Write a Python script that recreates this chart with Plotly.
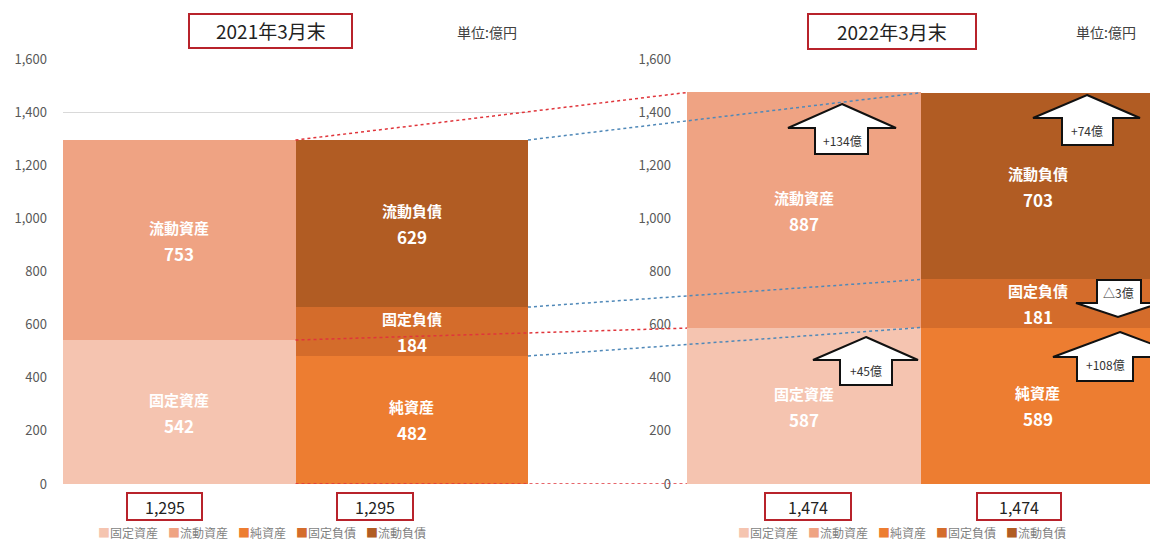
import plotly.graph_objects as go

W, H = 1150, 543
FONT = "Noto Sans CJK JP"

# ---------------- data ----------------
categories = ["固定資産", "流動資産", "純資産", "固定負債", "流動負債"]
bar_side = [0, 0, 1, 1, 1]          # 0: 資産, 1: 負債・純資産
values_2021 = [542, 753, 482, 184, 629]
values_2022 = [587, 887, 589, 181, 703]
totals_2021 = [1295, 1295]
totals_2022 = [1474, 1474]
period_titles = ["2021年3月末", "2022年3月末"]
unit_label = "単位:億円"
y_ticks = [0, 200, 400, 600, 800, 1000, 1200, 1400, 1600]
change_labels = ["+134億", "+74億", "+45億", "△3億", "+108億"]

colors = ["#F5C4B0", "#EFA383", "#ED7D31", "#D46C2B", "#B15C23"]

# ---------------- layout geometry ----------------
def px(x):
    return x / W

def py(y):
    return 1 - y / H

X1_DOM = [px(63), px(528)]
X2_DOM = [px(687), 1.0]
X1_RANGE = [-0.5, 1.5]
X2_RANGE = [-0.5, 1.48]
Y_DOM = [py(484), py(59)]
Y_RANGE = [0, 1600]


def xpaper(dom, rng, v):
    return dom[0] + (v - rng[0]) / (rng[1] - rng[0]) * (dom[1] - dom[0])


fig = go.Figure()

panels = [("x", "y", values_2021), ("x2", "y2", values_2022)]
for xa, ya, vals in panels:
    for name, s, v, c in zip(categories, bar_side, vals, colors):
        fig.add_trace(go.Bar(
            x=[s], y=[v], name=name, xaxis=xa, yaxis=ya,
            marker=dict(color=c, line=dict(width=0)), width=1,
            hoverinfo="skip", showlegend=False,
        ))

annotations = []
shapes = []


def ann(x, y, text, size, color, xref="paper", yref="paper", yshift=0,
        xanchor="center", yanchor="middle"):
    return dict(x=x, y=y, xref=xref, yref=yref, text=text, showarrow=False,
                xanchor=xanchor, yanchor=yanchor, yshift=yshift, borderpad=0,
                font=dict(family=FONT, size=size, color=color))


# segment labels
for xa, ya, vals in panels:
    cum = {0: 0, 1: 0}
    for name, s, v in zip(categories, bar_side, vals):
        mid = cum[s] + v / 2
        cum[s] += v
        annotations.append(ann(s, mid, f"<b>{name}</b>", 15, "white", xa, ya, 13))
        annotations.append(ann(s, mid, f"<b>{v:,}</b>", 17, "white", xa, ya, -13))

# connector lines (cumulative levels)
def cumlevels(vals, side):
    lv = [0]
    for s, v in zip(bar_side, vals):
        if s == side:
            lv.append(lv[-1] + v)
    return lv

a21, a22 = cumlevels(values_2021, 0), cumlevels(values_2022, 0)
l21, l22 = cumlevels(values_2021, 1), cumlevels(values_2022, 1)

for y0, y1 in zip(a21, a22):
    shapes.append(dict(type="line", xref="paper", yref="y",
                       x0=xpaper(X1_DOM, X1_RANGE, 0.5), y0=y0,
                       x1=xpaper(X2_DOM, X2_RANGE, -0.5), y1=y1,
                       line=dict(color="#E0353B", width=1.5, dash="dot"), layer="above"))
for y0, y1 in zip(l21[1:], l22[1:]):
    shapes.append(dict(type="line", xref="paper", yref="y",
                       x0=xpaper(X1_DOM, X1_RANGE, 1.5), y0=y0,
                       x1=xpaper(X2_DOM, X2_RANGE, 0.5), y1=y1,
                       line=dict(color="#4F88B8", width=1.5, dash="dot"), layer="above"))

# block arrows (decorations, in pixel geometry)
def up_arrow(tip, hb, hl, hr, sl, sr, bottom):
    tx, ty = tip
    pts = [(tx, ty), (hr, hb), (sr, hb), (sr, bottom), (sl, bottom), (sl, hb), (hl, hb)]
    return "M" + " L".join(f"{px(a):.5f},{py(b):.5f}" for a, b in pts) + " Z"

def down_arrow(top, sl, sr, hb, hl, hr, tip):
    tx, ty = tip
    pts = [(sl, top), (sr, top), (sr, hb), (hr, hb), (tx, ty), (hl, hb), (sl, hb)]
    return "M" + " L".join(f"{px(a):.5f},{py(b):.5f}" for a, b in pts) + " Z"

arrow_paths = [
    up_arrow((842, 104), 128, 788, 896, 815, 868, 154),
    up_arrow((1087, 95), 118, 1033, 1140, 1062, 1113, 145),
    up_arrow((866, 337), 360, 813, 918, 840, 892, 385),
    down_arrow(280, 1097, 1141, 303, 1076, 1160, (1118, 317)),
    up_arrow((1120, 332), 357, 1053, 1187, 1077, 1133, 381),
]
arrow_text_pos = [(842, 140), (1087, 130), (866, 370), (1118, 292), (1105, 364)]
for path in arrow_paths:
    shapes.append(dict(type="path", path=path, xref="paper", yref="paper",
                       fillcolor="white", line=dict(color="#111111", width=2), layer="above"))
for (tx, ty), t in zip(arrow_text_pos, change_labels):
    annotations.append(ann(px(tx), py(ty), t, 12, "#333333"))

# title boxes & unit labels
title_boxes = [(189, 14, 352, 48), (808, 14, 976, 49)]
unit_x = [487, 1106]
for (x0, y0, x1, y1), t, ux in zip(title_boxes, period_titles, unit_x):
    shapes.append(dict(type="rect", xref="paper", yref="paper",
                       x0=px(x0), y0=py(y0), x1=px(x1), y1=py(y1),
                       fillcolor="white", line=dict(color="#B8232B", width=2), layer="above"))
    annotations.append(ann(px((x0 + x1) / 2), py((y0 + y1) / 2), t, 19, "#222222"))
    annotations.append(ann(px(ux), py(32), unit_label, 14, "#404040"))

# total boxes
total_boxes = [[(127, 202), (337, 413)], [(765, 851), (977, 1061)]]
for boxes, tots in zip(total_boxes, [totals_2021, totals_2022]):
    for (x0, x1), tv in zip(boxes, tots):
        shapes.append(dict(type="rect", xref="paper", yref="paper",
                           x0=px(x0), y0=py(493), x1=px(x1), y1=py(520),
                           fillcolor="white", line=dict(color="#B8232B", width=2), layer="above"))
        annotations.append(ann(px((x0 + x1) / 2), py(506.5), f"{tv:,}", 16, "#222222"))

# legends (one row per panel)
LEG_FONT = 12
LEG_GAP = 10
legend_starts = [97, 737]
for start in legend_starts:
    xcur = start
    for name, c in zip(categories, colors):
        txt = f"<span style='color:{c}'>■</span>{name}"
        annotations.append(ann(px(xcur), py(542), txt, LEG_FONT, "#7F7F7F",
                               xanchor="left", yanchor="bottom"))
        xcur += LEG_FONT * (len(name) + 1) + LEG_GAP

yaxis_common = dict(range=Y_RANGE, domain=Y_DOM, tickvals=y_ticks, tickformat=",",
                    showgrid=True, gridcolor="#D9D9D9", gridwidth=1, zeroline=False,
                    showline=False, ticks="", ticklabelstandoff=15,
                    tickfont=dict(family=FONT, size=13, color="#595959"))
xaxis_common = dict(showticklabels=False, showgrid=False, zeroline=False, showline=False,
                    ticks="")

fig.update_layout(
    width=W, height=H,
    margin=dict(l=0, r=0, t=0, b=0, pad=0, autoexpand=False),
    paper_bgcolor="white", plot_bgcolor="white",
    barmode="stack", bargap=0, showlegend=False,
    xaxis=dict(domain=X1_DOM, range=X1_RANGE, anchor="y", **xaxis_common),
    xaxis2=dict(domain=X2_DOM, range=X2_RANGE, anchor="y2", **xaxis_common),
    yaxis=dict(anchor="x", **yaxis_common),
    yaxis2=dict(anchor="x2", **yaxis_common),
    shapes=shapes,
    annotations=annotations,
    font=dict(family=FONT),
)

fig.write_html("out.html")
